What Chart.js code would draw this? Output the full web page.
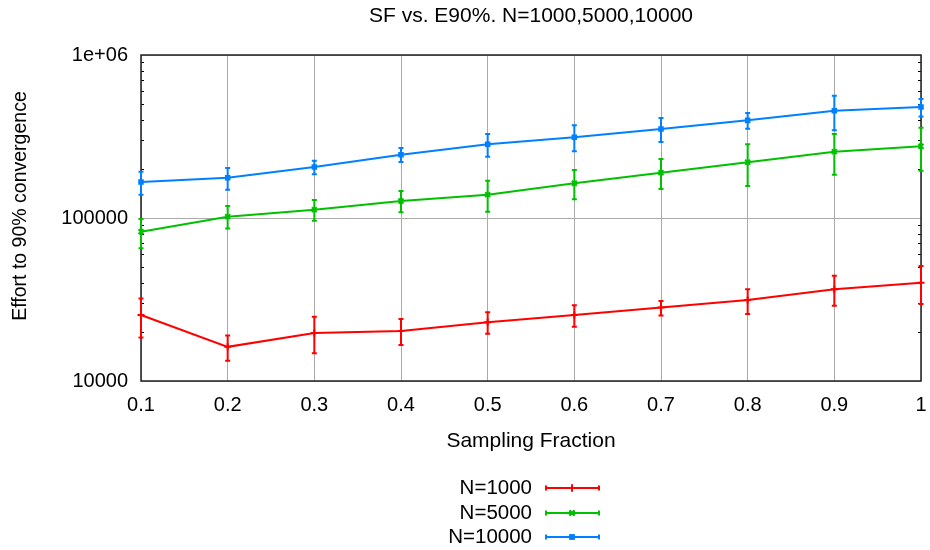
<!DOCTYPE html>
<html>
<head>
<meta charset="utf-8">
<script src="https://cdn.jsdelivr.net/npm/chart.js@4.4.1/dist/chart.umd.min.js"></script>
<style>
  html, body { margin: 0; padding: 0; background: #fff; }
  #wrap { width: 930px; height: 550px; }
</style>
</head>
<body>
<div id="wrap"><canvas id="chart" width="930" height="550"></canvas></div>
<script>
// sampling fraction on x
const sf = [0.1, 0.2, 0.3, 0.4, 0.5, 0.6, 0.7, 0.8, 0.9, 1.0];
const xTickLabels = ['0.1', '0.2', '0.3', '0.4', '0.5', '0.6', '0.7', '0.8', '0.9', '1'];
const yTicks = [10000, 100000, 1000000];
const yTickLabels = ['10000', '100000', '1e+06'];

// effort values + error bar ends
const n1000   = [25400, 16200, 19700, 20300, 22900, 25400, 28200, 31400, 36600, 40100];
const n1000Lo = [18500, 13300, 14800, 16600, 19500, 21500, 25200, 25800, 29000, 29700];
const n1000Hi = [32100, 19000, 24800, 24000, 26400, 29200, 31000, 36600, 44300, 50800];

const n5000   = [82400, 101900, 112500, 127100, 139000, 163300, 189700, 219800, 255200, 275400];
const n5000Lo = [65200, 86100, 96200, 108400, 109400, 130300, 150700, 157100, 184500, 195000];
const n5000Hi = [98600, 118600, 128900, 146500, 169400, 196900, 230300, 283100, 327500, 358100];

const n10000   = [166300, 176800, 205600, 244700, 283100, 312600, 351600, 397200, 455000, 479700];
const n10000Lo = [139000, 149300, 185400, 220800, 237700, 256400, 292400, 353200, 345200, 418800];
const n10000Hi = [192300, 202600, 224800, 268600, 327500, 370700, 410500, 440600, 562300, 537000];

const seriesNames = ['N=1000', 'N=5000', 'N=10000'];
const colors = ['#ff0000', '#00c000', '#0080ff'];
const markers = ['cross', 'crossRot', 'rect'];

const FONT = '"Liberation Sans", Arial, sans-serif';

function mkSet(i, vals, lo, hi) {
  return {
    label: seriesNames[i],
    data: sf.map((x, j) => ({ x: x, y: vals[j] })),
    errLo: lo, errHi: hi,
    borderColor: colors[i], backgroundColor: colors[i],
    borderWidth: 2, pointStyle: markers[i],
    pointRadius: i === 2 ? 2.5 : 3.5, pointBorderWidth: 2,
    tension: 0, clip: false
  };
}

// draws error bars, frame, minor ticks, titles and gnuplot-ish legend
const extras = {
  id: 'extras',
  beforeDatasetsDraw(chart) {
    const { ctx, chartArea: a, scales } = chart;
    ctx.save();
    ctx.strokeStyle = '#000';
    ctx.lineWidth = 1;
    // log minor ticks, inward, both sides
    for (let d = 10000; d < 1000000; d *= 10) {
      for (let k = 2; k <= 9; k++) {
        const y = Math.round(scales.y.getPixelForValue(d * k)) + 0.5;
        ctx.beginPath();
        ctx.moveTo(a.left, y); ctx.lineTo(a.left + 3, y);
        ctx.moveTo(a.right, y); ctx.lineTo(a.right - 3, y);
        ctx.stroke();
      }
    }
    ctx.strokeStyle = '#222';
    ctx.lineWidth = 1.5;
    ctx.strokeRect(a.left, a.top, a.right - a.left, a.bottom - a.top);
    ctx.restore();
  },
  afterDatasetsDraw(chart) {
    const { ctx, scales } = chart;
    ctx.save();
    chart.data.datasets.forEach((ds, i) => {
      const meta = chart.getDatasetMeta(i);
      ctx.strokeStyle = ds.borderColor;
      ctx.lineWidth = 2;
      meta.data.forEach((pt, j) => {
        const y1 = scales.y.getPixelForValue(ds.errLo[j]);
        const y2 = scales.y.getPixelForValue(ds.errHi[j]);
        ctx.beginPath();
        ctx.moveTo(pt.x, y1); ctx.lineTo(pt.x, y2);
        ctx.moveTo(pt.x - 2.5, y1); ctx.lineTo(pt.x + 2.5, y1);
        ctx.moveTo(pt.x - 2.5, y2); ctx.lineTo(pt.x + 2.5, y2);
        ctx.stroke();
      });
    });
    ctx.restore();
  },
  afterDraw(chart) {
    const { ctx, chartArea: a } = chart;
    ctx.save();
    ctx.fillStyle = '#000';
    ctx.textAlign = 'center';
    ctx.textBaseline = 'middle';
    ctx.font = '21px ' + FONT;
    ctx.fillText('SF vs. E90%. N=1000,5000,10000', (a.left + a.right) / 2, 16);
    ctx.fillText('Sampling Fraction', (a.left + a.right) / 2, 441);
    ctx.font = '19.5px ' + FONT;
    ctx.save();
    ctx.translate(21, 206);
    ctx.rotate(-Math.PI / 2);
    ctx.fillText('Effort to 90% convergence', 0, 0);
    ctx.restore();

    // legend
    ctx.font = '20.5px ' + FONT;
    const rows = [488, 513, 537];
    chart.data.datasets.forEach((ds, i) => {
      const y = rows[i];
      ctx.fillStyle = '#000';
      ctx.textAlign = 'right';
      ctx.fillText(ds.label, 532, y);
      ctx.strokeStyle = ds.borderColor;
      ctx.lineWidth = 2;
      ctx.beginPath();
      ctx.moveTo(546, y); ctx.lineTo(599, y);
      ctx.moveTo(546, y - 2.5); ctx.lineTo(546, y + 2.5);
      ctx.moveTo(599, y - 2.5); ctx.lineTo(599, y + 2.5);
      ctx.stroke();
      Chart.helpers.drawPoint(ctx, {
        pointStyle: ds.pointStyle, radius: ds.pointRadius, borderWidth: 2
      }, 572, y);
      ctx.fillStyle = ds.borderColor;
      if (ds.pointStyle === 'rect') ctx.fill();
      ctx.stroke();
    });
    ctx.restore();
  }
};

new Chart(document.getElementById('chart'), {
  type: 'line',
  data: {
    datasets: [
      mkSet(0, n1000, n1000Lo, n1000Hi),
      mkSet(1, n5000, n5000Lo, n5000Hi),
      mkSet(2, n10000, n10000Lo, n10000Hi)
    ]
  },
  options: {
    responsive: false,
    animation: false,
    layout: { padding: { top: 55, right: 0, left: 0, bottom: 0 } },
    plugins: { legend: { display: false }, title: { display: false }, tooltip: { enabled: false } },
    scales: {
      x: {
        type: 'linear', min: 0.1, max: 1,
        afterBuildTicks: s => { s.ticks = sf.map(v => ({ value: v })); },
        afterFit: s => { s.height = 169; s.paddingLeft = 0; s.paddingRight = 9; },
        ticks: {
          callback: (v, i) => xTickLabels[i],
          color: '#000', font: { family: FONT, size: 20 }, padding: 12, maxRotation: 0
        },
        grid: { color: '#aaaaaa', lineWidth: 1, drawTicks: false },
        border: { display: false }
      },
      y: {
        type: 'logarithmic', min: 10000, max: 1000000,
        afterBuildTicks: s => { s.ticks = yTicks.map(v => ({ value: v })); },
        afterFit: s => { s.width = 141; },
        ticks: {
          callback: (v, i) => yTickLabels[i],
          color: '#000', font: { family: FONT, size: 20 }, padding: 13
        },
        grid: { color: '#aaaaaa', lineWidth: 1, drawTicks: false },
        border: { display: false }
      }
    }
  },
  plugins: [extras]
});
</script>
</body>
</html>
